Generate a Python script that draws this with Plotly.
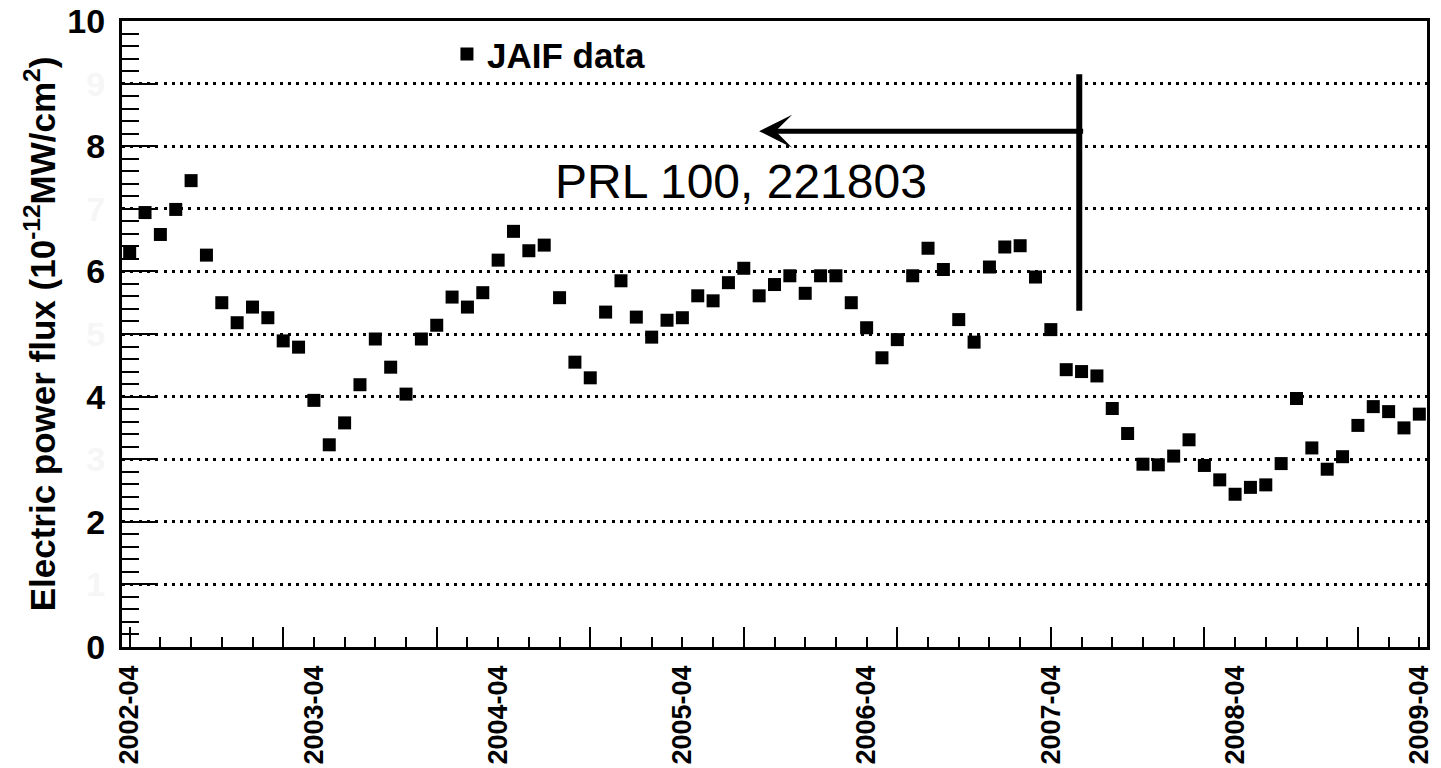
import plotly.graph_objects as go
import pandas as pd

# ---------------- data ----------------
months = pd.date_range("2002-04-01", periods=85, freq="MS").strftime("%Y-%m").tolist()

flux = [
    6.31, 6.94, 6.59, 6.99, 7.45, 6.26, 5.50, 5.18, 5.43, 5.26, 4.89, 4.79,
    3.94, 3.23, 3.58, 4.19, 4.92, 4.47, 4.04, 4.92, 5.14, 5.59, 5.43, 5.66,
    6.18, 6.64, 6.33, 6.42, 5.58, 4.55, 4.30, 5.35, 5.85, 5.27, 4.95, 5.22,
    5.26, 5.61, 5.53, 5.82, 6.05, 5.61, 5.79, 5.93, 5.65, 5.93, 5.93, 5.50,
    5.10, 4.62, 4.91, 5.93, 6.37, 6.03, 5.23, 4.87, 6.07, 6.39, 6.41, 5.91,
    5.07, 4.43, 4.40, 4.33, 3.81, 3.41, 2.92, 2.91, 3.05, 3.31, 2.90, 2.67,
    2.44, 2.55, 2.59, 2.93, 3.97, 3.18, 2.84, 3.04, 3.54, 3.84, 3.76, 3.50,
    3.72,
]

tick_labels = ["2002-04", "2003-04", "2004-04", "2005-04",
               "2006-04", "2007-04", "2008-04", "2009-04"]

y_tick_values = list(range(0, 11))
# odd labels are almost invisible in the original (very light grey)
y_tick_text = [str(v) if v % 2 == 0 else f'<span style="color:#f6f6f6">{v}</span>'
               for v in y_tick_values]

series_name = "JAIF data"
reference_text = "PRL 100, 221803"

# annotation geometry (data coordinates)
marker_line_x = 61.85
marker_line_y = (5.37, 9.15)
arrow_y = 8.24
arrow_tip_x = 41.0
arrow_tail_x = 62.2
ref_text_x = 39.8
ref_text_y = 7.44

# ---------------- figure ----------------
FONT = "Liberation Sans, Arial, Helvetica, sans-serif"
x_idx = list(range(len(months)))
label_pos = [months.index(m) for m in tick_labels]

fig = go.Figure()
fig.add_trace(go.Scatter(
    x=x_idx, y=flux, mode="markers", name=series_name,
    marker=dict(symbol="square", size=13, color="black", line=dict(width=0)),
))
# same data, invisible, bound to the overlay axis that carries the date labels
fig.add_trace(go.Scatter(
    x=x_idx, y=flux, mode="markers", xaxis="x2", showlegend=False,
    hoverinfo="skip", marker=dict(symbol="square", size=13, opacity=0),
))

fig.add_shape(type="line", xref="x", yref="y",
              x0=marker_line_x, x1=marker_line_x,
              y0=marker_line_y[0], y1=marker_line_y[1],
              line=dict(color="black", width=6))

fig.add_annotation(x=arrow_tip_x, y=arrow_y, ax=arrow_tail_x, ay=arrow_y,
                   xref="x", yref="y", axref="x", ayref="y",
                   text="", showarrow=True, arrowhead=3, arrowwidth=5,
                   arrowsize=1.1, arrowcolor="black")

fig.add_annotation(x=ref_text_x, y=ref_text_y, xref="x", yref="y",
                   text=reference_text, showarrow=False,
                   font=dict(size=48, color="black", family=FONT),
                   xanchor="center", yanchor="middle")

fig.update_layout(
    width=1441, height=768,
    margin=dict(l=122, r=14, t=21, b=121, autoexpand=False),
    plot_bgcolor="white", paper_bgcolor="white",
    font=dict(family=FONT, color="black"),
    showlegend=True,
    legend=dict(x=0.249, y=0.947, xanchor="left", yanchor="middle",
                font=dict(size=35, weight="bold", family=FONT),
                bgcolor="rgba(0,0,0,0)", itemwidth=30),
    xaxis=dict(
        range=[-0.5, 84.5], tickmode="array", tickvals=list(range(0, 85, 10)),
        showticklabels=False, ticks="inside", ticklen=20, tickwidth=2,
        tickcolor="black", automargin=False,
        minor=dict(tickmode="array", tickvals=list(range(0, 85, 2)),
                   ticks="inside", ticklen=10, tickwidth=2, tickcolor="black"),
        showline=True, linewidth=3, linecolor="black", mirror=True,
        showgrid=False, zeroline=False,
    ),
    xaxis2=dict(
        overlaying="x", anchor="y", side="bottom", range=[-0.5, 84.5],
        tickmode="array", tickvals=label_pos, ticktext=tick_labels,
        tickangle=-90, tickfont=dict(size=27, weight="bold", family=FONT),
        ticks="", ticklabelstandoff=12, automargin=False,
        showgrid=False, showline=False, zeroline=False,
    ),
    yaxis=dict(
        range=[0, 10], tickmode="array", tickvals=y_tick_values,
        ticktext=y_tick_text, ticks="inside", ticklen=33, tickwidth=2,
        tickcolor="black", tickfont=dict(size=34, weight="bold", family=FONT),
        ticklabelstandoff=7, automargin=False,
        minor=dict(tickmode="array", tickvals=[round(i * 0.2, 1) for i in range(51)],
                   ticks="inside", ticklen=17, tickwidth=2, tickcolor="black"),
        showgrid=True, gridcolor="black", gridwidth=2.5, griddash="3px,5.3px",
        showline=True, linewidth=3, linecolor="black", mirror=True,
        zeroline=False,
        title=dict(text="<b>Electric power flux (10<sup>-12</sup>MW/cm<sup>2</sup>)</b>",
                   font=dict(size=35, family=FONT), standoff=2),
    ),
)

fig.write_html("out.html")
